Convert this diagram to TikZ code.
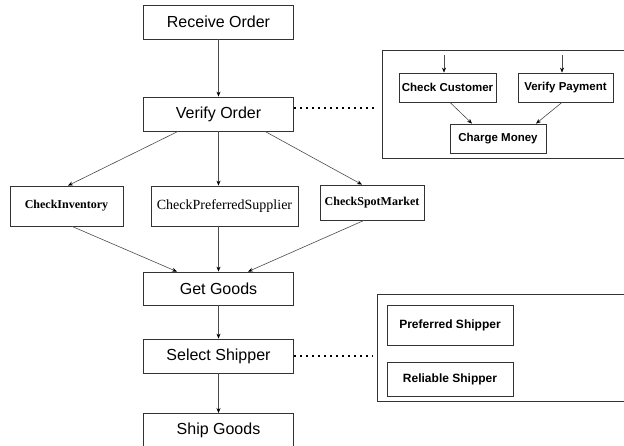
\documentclass[tikz,border=0pt]{standalone}
\usepackage{fontspec}
\setmainfont{Liberation Sans}
\newfontfamily\serif{Liberation Serif}
\usetikzlibrary{arrows.meta}

\begin{document}
\begin{tikzpicture}[x=1pt,y=-1pt,
	box/.style={draw=black!80, line width=0.8pt, inner sep=0pt, minimum width=150pt, font=\fontsize{16}{18}\selectfont},
	task/.style={draw=black!80, line width=0.8pt, inner sep=0pt, font=\serif\bfseries\fontsize{12}{14}\selectfont},
	sub/.style={draw=black!80, line width=0.8pt, inner sep=0pt, font=\bfseries\fontsize{11.5}{13}\selectfont},
	arr/.style={draw=black!70, line width=0.6pt, -{Stealth[length=5pt,width=4pt,black]}},
	link/.style={line width=1.6pt, dash pattern=on 1.6pt off 4.4pt}]

	\fill[white] (0,0) rectangle (624,446);
	\clip (0,0) rectangle (624,446);

	% main flow
	\node[box, minimum height=34pt] (recv) at (218.5,22) {Receive Order};
	\node[box, minimum height=34pt] (verify) at (218.5,114) {Verify Order};
	\node[task, minimum width=113pt, minimum height=40pt] (inv) at (66.5,206) {CheckInventory};
	\node[task, font=\serif\fontsize{14}{16}\selectfont, minimum width=147pt, minimum height=40pt] (supp) at (224.5,206) {CheckPreferredSupplier};
	\node[task, minimum width=104pt, minimum height=35pt] (spot) at (372,202.5) {CheckSpotMarket};
	\node[box, minimum height=33pt] (get) at (218.5,288.5) {Get Goods};
	\node[box, minimum height=34pt] (select) at (218.5,356) {Select Shipper};
	\node[box, minimum height=34pt, anchor=north] (ship) at (218.5,413) {Ship Goods};

	\draw[arr] (recv) -- (verify);
	\draw[arr] ([xshift=-40.5pt]verify.south) -- ([xshift=1.5pt]inv.north);
	\draw[arr] (verify.south) -- (verify.south |- supp.north);
	\draw[arr] ([xshift=46.5pt]verify.south) -- ([xshift=-10pt]spot.north);
	\draw[arr] ([xshift=5.5pt]inv.south) -- ([xshift=-41.5pt]get.north);
	\draw[arr] (get.north |- supp.south) -- (get.north);
	\draw[arr] ([xshift=-8pt]spot.south) -- ([xshift=29.5pt]get.north);
	\draw[arr] (get) -- (select);
	\draw[arr] (select) -- (ship);

	% payment detail
	\draw[draw=black!80, line width=0.8pt] (382,50) rectangle (640,158);
	\node[sub, minimum width=97pt, minimum height=29pt] (cust) at (447.5,87.5) {Check Customer};
	\node[sub, minimum width=95pt, minimum height=29pt] (pay) at (565.5,87.5) {Verify Payment};
	\node[sub, minimum width=96pt, minimum height=29pt] (charge) at (498,138.5) {Charge Money};
	\coordinate (custin) at (444,55);
	\coordinate (payin) at (562,55);
	\draw[arr] (custin) -- (custin |- cust.north);
	\draw[arr] (payin) -- (payin |- pay.north);
	\draw[arr] ([xshift=2.5pt]cust.south) -- ([xshift=-26pt]charge.north);
	\draw[arr] ([xshift=-3.5pt]pay.south) -- ([xshift=38pt]charge.north);
	\coordinate (payframe) at (377,108);
	\draw[link] (verify.east |- payframe) -- (payframe);

	% shipper detail
	\draw[draw=black!80, line width=0.8pt] (377,294) rectangle (640,401);
	\node[sub, font=\bfseries\fontsize{12}{14}\selectfont, minimum width=126pt, minimum height=40pt] (pref) at (450,325) {Preferred Shipper};
	\node[sub, font=\bfseries\fontsize{12}{14}\selectfont, minimum width=126pt, minimum height=34pt] (rel) at (450,379) {Reliable Shipper};
	\coordinate (shipframe) at (373,356);
	\draw[link] (select.east) -- (shipframe);

\end{tikzpicture}
\end{document}
